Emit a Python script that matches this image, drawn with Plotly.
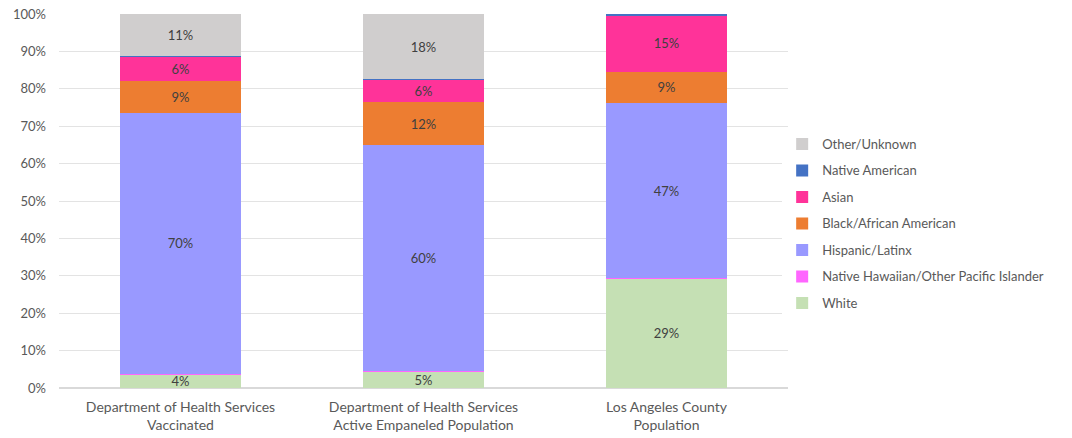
import plotly.graph_objects as go

categories = ["Department of Health Services<br>Vaccinated",
              "Department of Health Services<br>Active Empaneled Population",
              "Los Angeles County<br>Population"]

series_names = ["White", "Native Hawaiian/Other Pacific Islander", "Hispanic/Latinx",
                "Black/African American", "Asian", "Native American", "Other/Unknown"]

white = [3.6, 4.4, 29.2]
native_hawaiian = [0.2, 0.2, 0.3]
hispanic = [69.8, 60.3, 46.6]
black = [8.5, 11.5, 8.5]
asian = [6.6, 6.0, 15.1]
native_american = [0.2, 0.2, 0.3]
other = [11.1, 17.4, 0.0]

labels_white = ["4%", "5%", "29%"]
labels_hispanic = ["70%", "60%", "47%"]
labels_black = ["9%", "12%", "9%"]
labels_asian = ["6%", "6%", "15%"]
labels_other = ["11%", "18%", ""]

colors = ["#C5E0B4", "#FF66FF", "#9999FF", "#ED7D31", "#FF3399", "#4472C4", "#D0CECE"]

values = [white, native_hawaiian, hispanic, black, asian, native_american, other]
texts = [labels_white, None, labels_hispanic, labels_black, labels_asian, None, labels_other]

fig = go.Figure()
for i, (name, vals, txt, col) in enumerate(zip(series_names, values, texts, colors)):
    fig.add_trace(go.Bar(
        x=categories, y=vals, name=name,
        marker=dict(color=col, line=dict(width=0)),
        text=txt if txt else None,
        textposition="inside" if txt else "none",
        insidetextanchor="middle",
        textangle=0,
        constraintext="none",
        textfont=dict(color="#404040", size=13, family="Lato"),
        legendgroup=f"g{i}",
        legendrank=100 - i,
        hoverinfo="name+y",
    ))

fig.update_layout(
    barmode="stack",
    bargap=0.5,
    width=1072, height=438,
    margin=dict(l=59, r=284, t=14, b=50),
    plot_bgcolor="white", paper_bgcolor="white",
    font=dict(family="Lato", size=13, color="#595959"),
    uniformtext=dict(minsize=8, mode="show"),
    legend=dict(
        x=0.992, xanchor="left", y=0.44, yanchor="middle",
        traceorder="grouped",
        tracegroupgap=6.6,
        font=dict(size=13, color="#595959"),
        itemwidth=30,
    ),
    xaxis=dict(showline=False, ticks="", automargin=False, ticklabelstandoff=9,
               tickfont=dict(size=14, color="#595959")),
    yaxis=dict(range=[0, 100], dtick=10, ticksuffix="%", showgrid=True, automargin=False,
               gridcolor="#E3E3E3", gridwidth=1, zeroline=True, zerolinecolor="#D9D9D9",
               ticklabelstandoff=12,
               tickfont=dict(size=13, color="#595959"), ticks="", ticklen=0),
)

fig.write_html("out.html", config={"displayModeBar": False},
               post_script="document.body.style.margin='0';")
